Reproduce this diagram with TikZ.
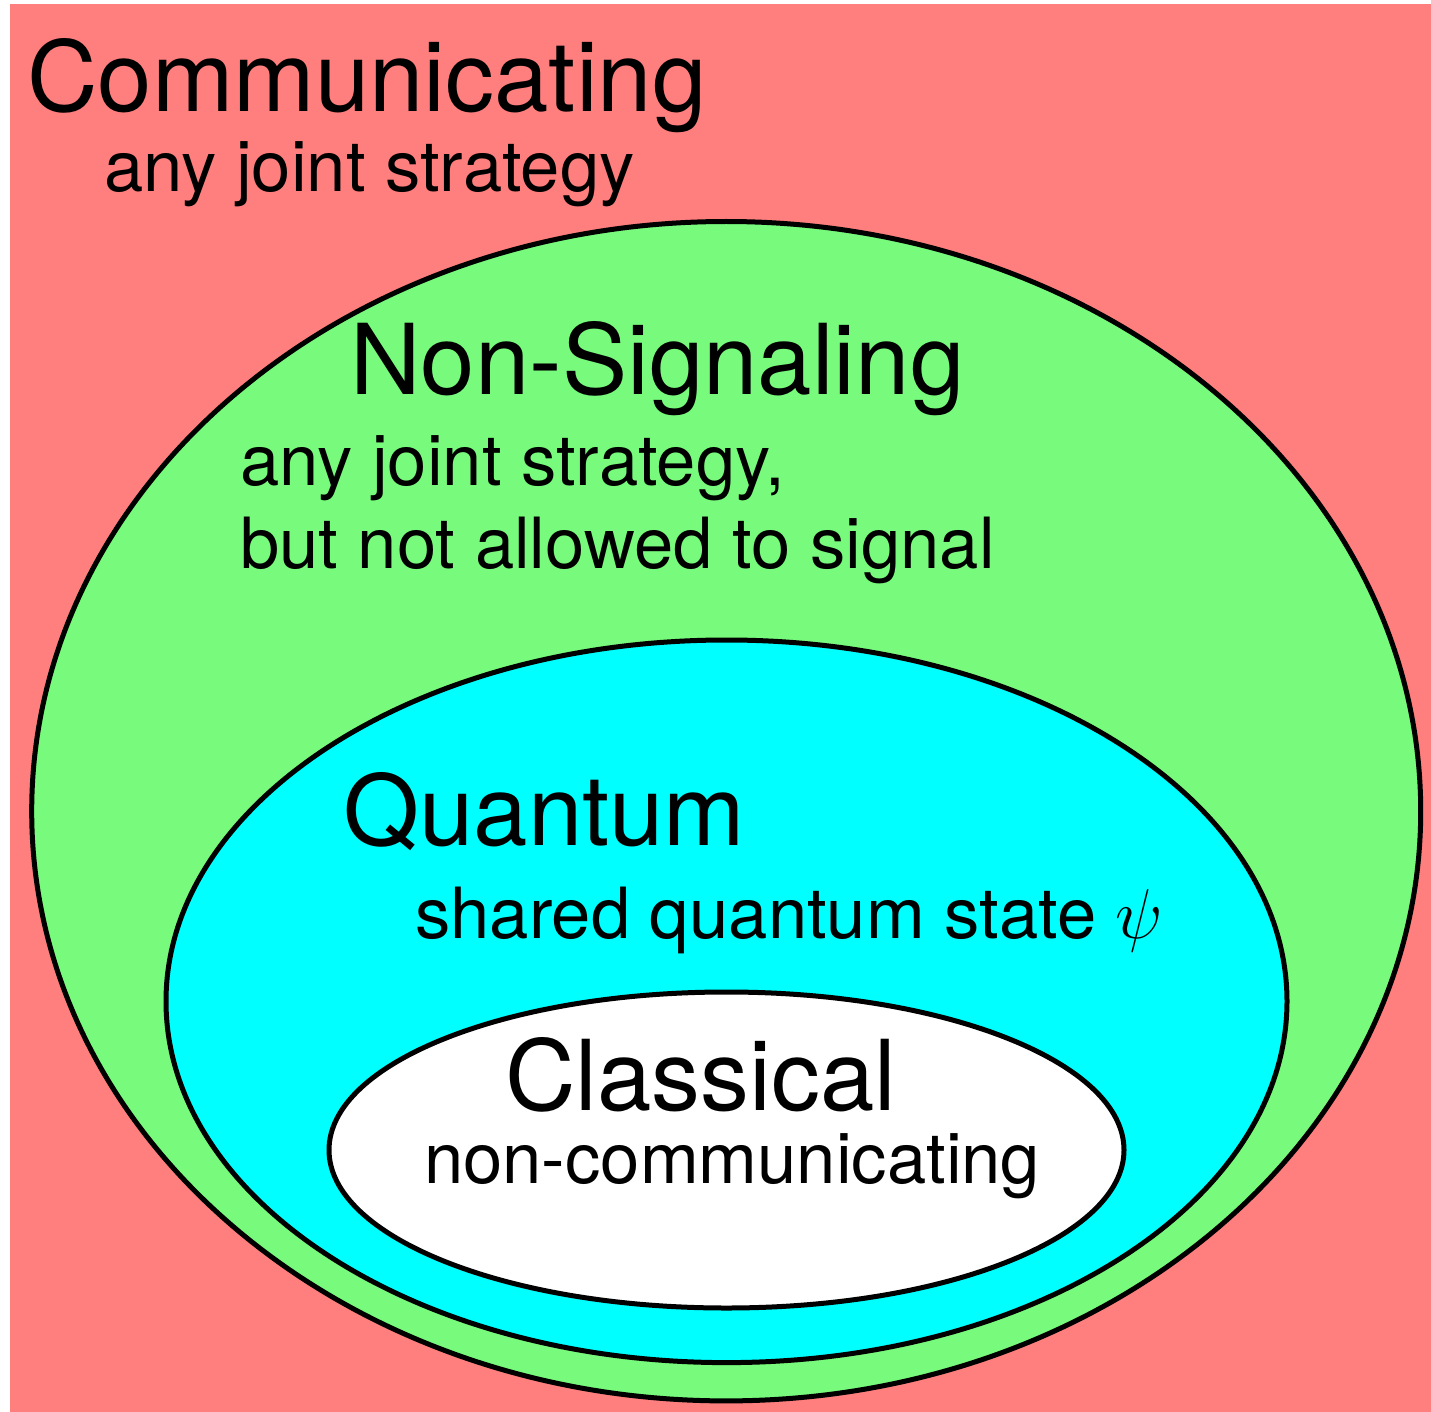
\documentclass[tikz,border=0pt]{standalone}
\usepackage{fix-cm}
\usepackage{fontspec}
\setmainfont{TeX Gyre Heros}
\definecolor{commred}{RGB}{255,127,127}
\definecolor{nsgreen}{RGB}{120,251,125}
\definecolor{qcyan}{RGB}{0,255,255}
\tikzset{
  region/.style={draw=black, line width=5pt},
  headline/.style={anchor=base west, inner sep=0pt, font=\fontsize{97.8}{112}\selectfont},
  subline/.style={anchor=base west, inner sep=0pt, align=left, font=\fontsize{70.6}{84}\selectfont},
}
\begin{document}
\begin{tikzpicture}[x=1pt, y=-1pt]
  \useasboundingbox (0,0) rectangle (1431,1412);
  % outer set: communicating strategies
  \fill[commred] (10,4) rectangle (1431,1412);
  % nested sets
  \draw[region, fill=nsgreen] (726.2,811.2) ellipse [x radius=694.5, y radius=589.7];
  \draw[region, fill=qcyan] (726.5,1001.3) ellipse [x radius=560.5, y radius=361.3];
  \draw[region, fill=white] (726.5,1150) ellipse [x radius=397.5, y radius=158];
  % labels
  \node[headline] (commTitle) at (27,112) {Communicating};
  \node[subline] (commText) at (104,192) {any joint strategy};
  \node[headline] (nsTitle) at (350,394) {Non-Signaling};
  \node[subline] (nsText1) at (240,485) {any joint strategy,};
  \node[subline] (nsText2) at (240,568) {but not allowed to signal};
  \node[headline] (qTitle) at (343,845) {Quantum};
  \node[subline] (qText) at (415,938) {shared quantum state $\psi$};
  \node[headline] (cTitle) at (505,1110) {Classical};
  \node[subline] (cText) at (424,1183) {non-communicating};
\end{tikzpicture}
\end{document}
